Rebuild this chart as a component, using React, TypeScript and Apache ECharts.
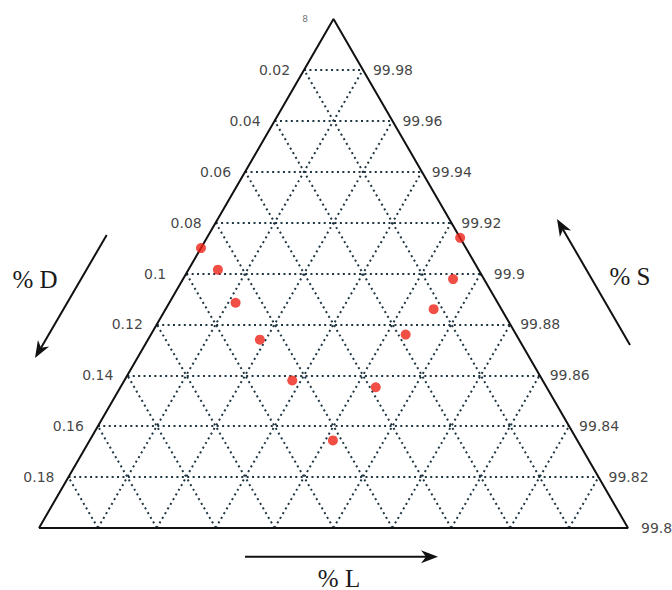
import React, { useEffect, useRef } from "react";
import * as echarts from "echarts";

// Ternary data: %D and %L (S = 100 - D - L)
const dValues = [0.09, 0.0885, 0.089, 0.088, 0.085, 0.083, 0.058, 0.0375, 0.023, 0.0105, 0.0];
const lValues = [0.0, 0.01, 0.0225, 0.038, 0.057, 0.0826, 0.0867, 0.0865, 0.091, 0.0917, 0.086];
const leftTicks = ["0.02", "0.04", "0.06", "0.08", "0.1", "0.12", "0.14", "0.16", "0.18"];
const rightTicks = ["99.98", "99.96", "99.94", "99.92", "99.9", "99.88", "99.86", "99.84", "99.82", "99.8"];
const RANGE = 0.2;
const DIVS = 10;

function toXY(d: number, l: number): [number, number] {
  const lp = l / RANGE;
  const dp = d / RANGE;
  const sp = 1 - lp - dp;
  return [lp + sp / 2, sp];
}

function arrow(x1: number, y1: number, x2: number, y2: number) {
  const dx = x2 - x1, dy = y2 - y1;
  const len = Math.sqrt(dx * dx + dy * dy);
  const ux = dx / len, uy = dy / len;
  const px = -uy, py = ux;
  const hl = 17, hw = 6.5, notch = 12;
  const bx = x2 - ux * hl, by = y2 - uy * hl;
  const nx = x2 - ux * notch, ny = y2 - uy * notch;
  return [
    {
      type: "line",
      shape: { x1, y1, x2: nx, y2: ny },
      style: { stroke: "#111", lineWidth: 2 },
    },
    {
      type: "polygon",
      shape: {
        points: [
          [x2, y2],
          [bx + px * hw, by + py * hw],
          [nx, ny],
          [bx - px * hw, by - py * hw],
        ],
      },
      style: { fill: "#111" },
    },
  ];
}

export default function App() {
  const ref = useRef<HTMLDivElement>(null);
  useEffect(() => {
    if (!ref.current) return;
    const chart = echarts.init(ref.current, null, { renderer: "svg" });

    const gridLines: any[] = [];
    for (let k = 1; k < DIVS; k++) {
      const f = k / DIVS;
      gridLines.push({ coords: [[f / 2, f], [1 - f / 2, f]] });
      gridLines.push({ coords: [[f, 0], [f + (1 - f) / 2, 1 - f]] });
      gridLines.push({ coords: [[1 - f, 0], [(1 - f) / 2, 1 - f]] });
    }

    const leftLabelData = leftTicks.map((t, i) => {
      const sp = 1 - (i + 1) / DIVS;
      return {
        value: [sp / 2, sp],
        label: { distance: t.length < 4 ? 20 : 14 },
      };
    });
    const rightLabelData = rightTicks.map((t, i) => {
      const sp = 1 - (i + 1) / DIVS;
      return {
        value: [1 - sp / 2, sp],
        label: { distance: t.length < 5 ? 13 : 10 },
      };
    });

    const points = dValues.map((d, i) => toXY(d, lValues[i]));

    const serifTitle = {
      fontFamily: "Liberation Serif",
      fontSize: 25,
      fill: "#1a1a1a",
    };
    const tickLabel = {
      fontFamily: "DejaVu Sans",
      fontSize: 14,
      color: "#111",
    };

    chart.setOption({
      animation: false,
      backgroundColor: "#fff",
      grid: { left: 39, right: 44, top: 19, bottom: 62 },
      xAxis: { type: "value", min: 0, max: 1, show: false },
      yAxis: { type: "value", min: 0, max: 1, show: false },
      series: [
        {
          type: "lines",
          coordinateSystem: "cartesian2d",
          data: gridLines,
          silent: true,
          lineStyle: { color: "#1f3642", width: 2, type: [2, 3.4], opacity: 1 },
        },
        {
          type: "line",
          data: [[0, 0], [0.5, 1], [1, 0], [0, 0]],
          symbol: "none",
          lineStyle: { color: "#111", width: 2 },
          silent: true,
        },
        {
          type: "scatter",
          data: leftLabelData,
          symbolSize: 0,
          label: {
            show: true,
            position: "left",
            formatter: (p: any) => leftTicks[p.dataIndex],
            ...tickLabel,
          },
          silent: true,
        },
        {
          type: "scatter",
          data: rightLabelData,
          symbolSize: 0,
          label: {
            show: true,
            position: "right",
            formatter: (p: any) => rightTicks[p.dataIndex],
            ...tickLabel,
          },
          silent: true,
        },
        {
          type: "scatter",
          data: points,
          symbolSize: 10,
          itemStyle: { color: "#ee2217" },
          z: 5,
        },
      ],
      graphic: [
        ...arrow(106.7, 235, 35, 358),
        ...arrow(630, 345, 557, 219),
        ...arrow(245, 556.7, 438, 556.7),
        {
          type: "text",
          x: 35,
          y: 279,
          style: { ...serifTitle, text: "% D", align: "center", verticalAlign: "middle" },
        },
        {
          type: "text",
          x: 630,
          y: 276,
          style: { ...serifTitle, text: "% S", align: "center", verticalAlign: "middle" },
        },
        {
          type: "text",
          x: 339,
          y: 578,
          style: { ...serifTitle, text: "% L", align: "center", verticalAlign: "middle" },
        },
        {
          type: "text",
          x: 305,
          y: 19,
          style: {
            text: "8",
            fontFamily: "DejaVu Sans",
            fontSize: 9,
            fill: "#777",
            align: "center",
            verticalAlign: "middle",
          },
        },
      ],
    });
    return () => chart.dispose();
  }, []);
  return (
    <div
      ref={ref}
      style={{ position: "fixed", left: 0, top: 0, width: 672, height: 590 }}
    />
  );
}
